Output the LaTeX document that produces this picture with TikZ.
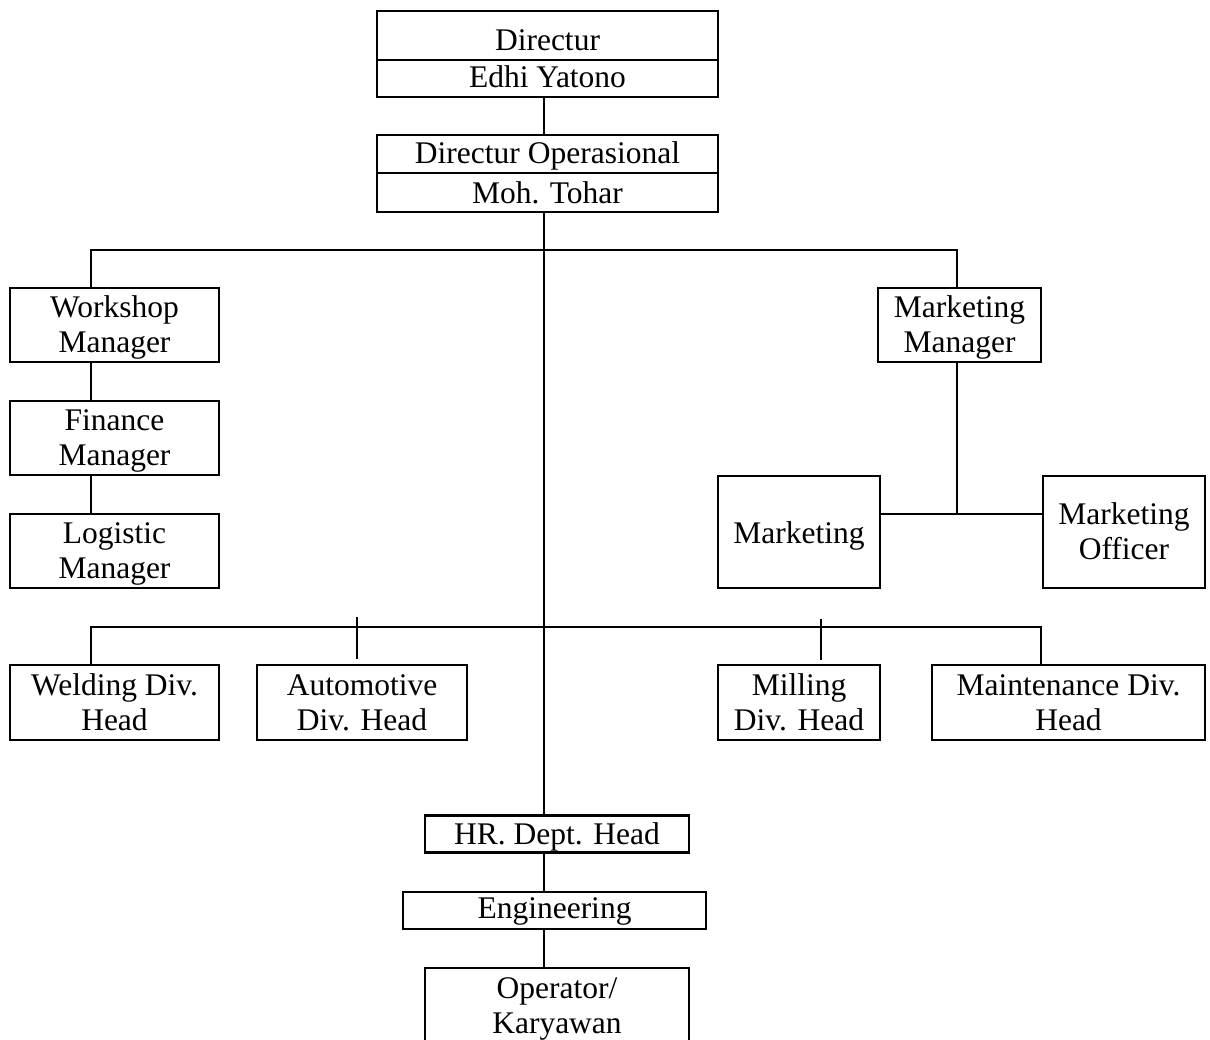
\documentclass[tikz,border=0pt]{standalone}
\usepackage{fontspec}
\setmainfont{Liberation Serif}
\usepackage{tikz}
\newcommand{\lw}{2.4pt}
\newcommand{\fsz}{\fontsize{31.5}{35}\selectfont}
\newcommand{\tl}[2]{\rule{0pt}{27pt}#1\\#2\rule[-7pt]{0pt}{7pt}}

\begin{document}
\begin{tikzpicture}[x=1pt,y=-1pt,
	box/.style={draw, line width=\lw, inner sep=0pt, align=center, font=\fsz},
	oneline/.style={text height=#1, text depth=7pt},
	oneline/.default=27pt,
	conn/.style={line width=\lw}]

	\useasboundingbox (0,0) rectangle (1210,1039);
	\clip (0,0) rectangle (1210,1039);
	%\draw[help lines] (0,0) grid[step=100] (1210,1039);

	% top
	\node[box, oneline=36pt, minimum width=341, minimum height=49] (dir)  at (547.5,35.5)  {Directur};
	\node[box, oneline=24pt, minimum width=341, minimum height=37] (dirn) at (547.5,78.5)  {Edhi Yatono};
	\node[box, oneline=25pt, minimum width=341, minimum height=38] (ops)  at (547.5,154)   {Directur Operasional};
	\node[box, oneline=28pt, minimum width=341, minimum height=39] (opsn) at (547.5,192.5) {Moh. Tohar};

	% left column
	\node[box, minimum width=209, minimum height=74] (ws)  at (114.5,325) {\tl{Workshop}{Manager}};
	\node[box, minimum width=209, minimum height=74] (fin) at (114.5,438) {\tl{Finance}{Manager}};
	\node[box, minimum width=209, minimum height=74] (log) at (114.5,551) {\tl{Logistic}{Manager}};

	% marketing
	\node[box, minimum width=163, minimum height=74]  (mm)  at (959.5,325) {\tl{Marketing}{Manager}};
	\node[box, oneline=29pt, minimum width=162, minimum height=112] (mkt) at (799,532) {Marketing};
	\node[box, minimum width=162, minimum height=112] (mof) at (1124,532)  {\tl{Marketing}{Officer}};

	% divisions
	\node[box, minimum width=209, minimum height=75] (weld) at (114.5,702.5)  {\tl{Welding Div.}{Head}};
	\node[box, minimum width=210, minimum height=75] (auto) at (362,702.5)    {\tl{Automotive}{Div. Head}};
	\node[box, minimum width=162, minimum height=75] (mill) at (799,702.5)    {\tl{Milling}{Div. Head}};
	\node[box, minimum width=273, minimum height=75] (mnt)  at (1068.5,702.5) {\tl{Maintenance Div.}{Head}};

	% bottom
	\node[box, oneline, minimum width=264, minimum height=37] (hr)  at (557,834)     {HR. Dept. Head};
	\node[box, oneline=22pt, minimum width=303, minimum height=37] (eng) at (554.5,910.5) {Engineering};
	\node[box, minimum width=264, minimum height=76] (opr) at (557,1006)   {\tl{Operator/}{Karyawan}};

	\coordinate (sp) at (544,0);
	\coordinate (bl) at (91,250);
	\coordinate (br) at (957,250);
	\coordinate (mj) at (957,514);
	\coordinate (dl) at (91,627);
	\coordinate (dr) at (1041,627);
	\coordinate (ta) at (357,617);
	\coordinate (tm) at (821,619);

	\draw[conn] (sp |- dirn.south) -- (sp |- ops.north);
	\draw[conn] (sp |- opsn.south) -- (sp |- hr.north);
	\draw[conn] (sp |- hr.south) -- (sp |- eng.north);
	\draw[conn] (sp |- eng.south) -- (sp |- opr.north);

	\draw[conn] (bl |- ws.north) -- (bl) -- (br) -- (br |- mm.north);
	\draw[conn] (bl |- ws.south) -- (bl |- fin.north);
	\draw[conn] (bl |- fin.south) -- (bl |- log.north);

	\draw[conn] (br |- mm.south) -- (mj);
	\draw[conn] (mkt.east |- mj) -- (mof.west |- mj);

	\draw[conn] (dl |- weld.north) -- (dl) -- (dr) -- (dr |- mnt.north);
	\draw[line width=1.6pt, shorten >=5pt] (ta) -- (ta |- auto.north);
	\draw[line width=1.6pt, shorten >=4pt] (tm) -- (tm |- mill.north);
\end{tikzpicture}
\end{document}
